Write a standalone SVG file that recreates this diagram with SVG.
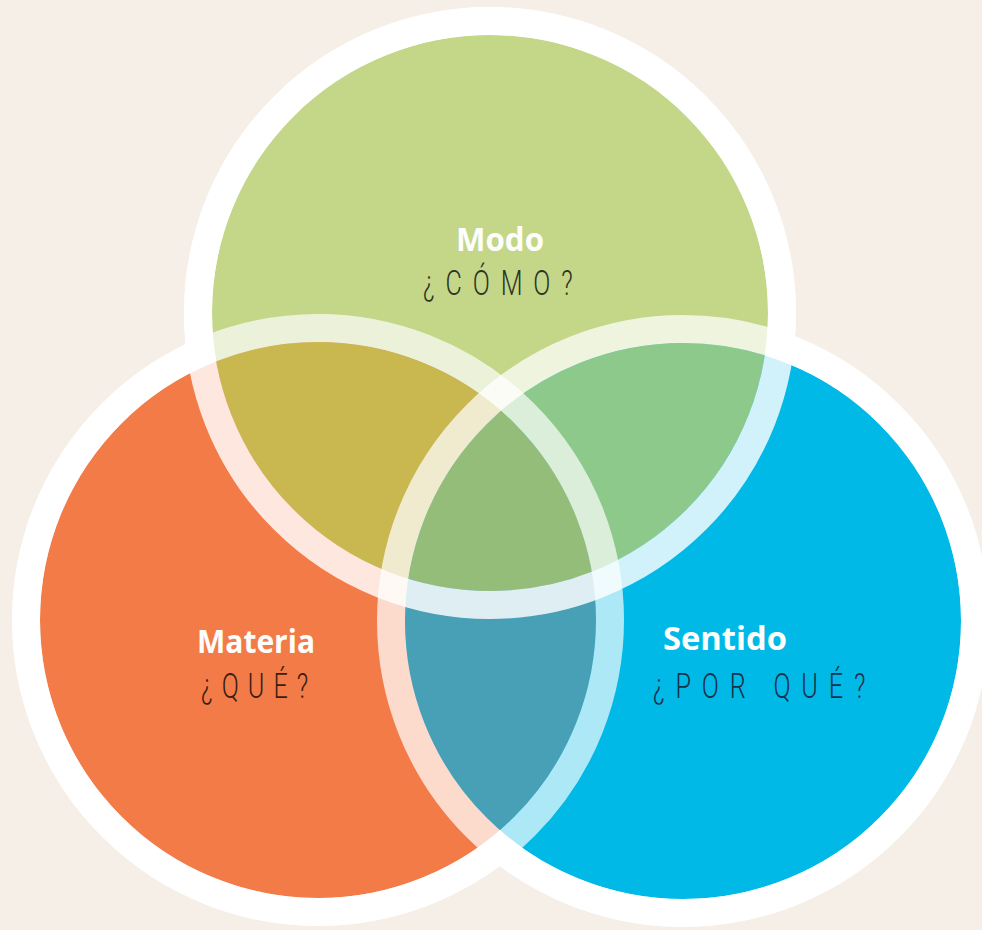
<svg xmlns="http://www.w3.org/2000/svg" width="982" height="930" viewBox="0 0 982 930">
<style>
.bold{font-family:"Open Sans","Noto Sans","Liberation Sans",sans-serif;font-weight:700;font-size:32px;fill:#fdfdfb}
.thin{font-family:Roboto,"Open Sans","Liberation Sans",sans-serif;font-weight:300;font-size:35px}
.halo{fill:#ffffff}
.ring{fill:none;stroke:#ffffff;stroke-width:28}
</style>
<defs>
<clipPath id="cO"><circle cx="318" cy="620" r="278"/></clipPath>
<clipPath id="cB"><circle cx="683" cy="621" r="278"/></clipPath>
</defs>
<rect width="982" height="930" fill="#f6efe8"/>
<g id="halos">
<circle class="halo" cx="490" cy="313" r="306"/>
<circle class="halo" cx="318" cy="620" r="306"/>
<circle class="halo" cx="683" cy="621" r="306"/>
</g>
<g id="node-modo">
<circle cx="490" cy="313" r="278" fill="#c4d789"/>
<text class="bold" x="456" y="251" textLength="88" lengthAdjust="spacingAndGlyphs">Modo</text>
<text class="thin" transform="translate(423,295) scale(0.72,1)" x="0" y="0" textLength="208" lengthAdjust="spacing" fill="#2e3424">¿CÓMO?</text>
</g>
<g id="node-materia">
<circle cx="318" cy="620" r="278" fill="#f27b48"/>
<text class="bold" x="197" y="653" textLength="118" lengthAdjust="spacingAndGlyphs">Materia</text>
<text class="thin" transform="translate(201,698) scale(0.72,1)" x="0" y="0" textLength="149" lengthAdjust="spacing" fill="#3a1e12">¿QUÉ?</text>
</g>
<g id="node-sentido">
<circle cx="683" cy="621" r="278" fill="#00b9e7"/>
<text class="bold" x="663" y="650" textLength="124" lengthAdjust="spacingAndGlyphs">Sentido</text>
<text class="thin" transform="translate(653,698) scale(0.72,1)" x="0" y="0" textLength="295" lengthAdjust="spacing" fill="#17324c">¿POR QUÉ?</text>
</g>
<g id="overlaps">
<circle cx="490" cy="313" r="278" fill="#c9b750" clip-path="url(#cO)"/>
<circle cx="490" cy="313" r="278" fill="#8cc98b" clip-path="url(#cB)"/>
<circle cx="318" cy="620" r="278" fill="#47a0b6" clip-path="url(#cB)"/>
<g clip-path="url(#cB)"><circle cx="490" cy="313" r="278" fill="#94bd7a" clip-path="url(#cO)"/></g>
</g>
<g id="rings">
<circle class="ring" cx="318" cy="620" r="292" stroke-opacity="0.68"/>
<circle class="ring" cx="683" cy="621" r="292" stroke-opacity="0.72"/>
<circle class="ring" cx="490" cy="313" r="292" stroke-opacity="0.82"/>
</g>
</svg>
